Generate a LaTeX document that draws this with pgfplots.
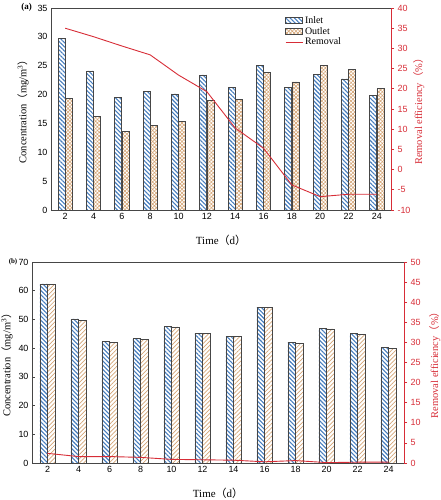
\documentclass[border=0pt]{standalone}
\usepackage{pgfplots}
\pgfplotsset{compat=1.18}
\usetikzlibrary{patterns.meta}
\usepackage{fontspec}
\setmainfont{Liberation Serif}
\setsansfont{Liberation Sans}
\newfontfamily\cjk{Noto Sans CJK SC}
\definecolor{inblue}{RGB}{70,125,190}
\definecolor{outtan}{RGB}{212,165,118}
\definecolor{remred}{RGB}{215,45,55}
\definecolor{axgray}{RGB}{70,70,70}
\tikzset{ylab/.style={font=\fontsize{10.5}{12}\selectfont}}
\pgfplotsset{
  base/.style={scale only axis, xmin=1, xmax=25, xtick={2,4,...,24},
    tick label style={font=\sffamily\fontsize{9}{10}\selectfont},
    /pgf/number format/assume math mode=true,
    axis line style={axgray, line width=0.8bp},
    clip=false},
  inletbar/.style={ybar, bar width=7bp, bar shift=-3.6bp, draw=axgray, line width=0.6bp,
    pattern={Lines[angle=-45,distance=3bp,line width=1.1bp]}, pattern color=inblue},
  outletA/.style={ybar, bar width=7bp, bar shift=3.6bp, draw=axgray, line width=0.6bp,
    pattern={Hatch[angle=45,distance=2.6bp,line width=0.6bp]}, pattern color=outtan},
  outletB/.style={ybar, bar width=7.5bp, bar shift=3.8bp, draw=axgray, line width=0.6bp,
    pattern={Lines[angle=45,distance=3bp,line width=0.7bp]}, pattern color=outtan},
}
\begin{document}
\begin{tikzpicture}
\path[use as bounding box] (0,0) rectangle (441bp,500bp);
% ---------------- panel (a) ----------------
\begin{axis}[base, at={(51bp,290bp)}, anchor=south west, width=340bp, height=202bp,
  ymin=0, ymax=35, ytick={0,5,...,35}, ytick pos=left, xtick pos=bottom,
  xtick style={draw=none}, ytick style={draw=none},
  ylabel={Concentration{\cjk （}mg/m\textsuperscript{3}{\cjk ）}},
  ylabel style={ylab, at={(axis description cs:-0.082,0.5)}, anchor=center, rotate=0},
  xlabel={Time{\cjk （}d{\cjk ）}},
  xlabel style={font=\fontsize{11}{12}\selectfont, at={(axis description cs:0.5,-0.149)}, anchor=center}]
\addplot[inletbar] coordinates {(2,29.8) (4,24.1) (6,19.5) (8,20.5) (10,20.1) (12,23.4) (14,21.2) (16,25.0) (18,21.2) (20,23.5) (22,22.7) (24,19.8)};
\addplot[outletA] coordinates {(2,19.4) (4,16.2) (6,13.6) (8,14.7) (10,15.4) (12,19.0) (14,19.1) (16,23.9) (18,22.2) (20,25.1) (22,24.3) (24,21.0)};
\end{axis}
\begin{axis}[base, at={(51bp,290bp)}, anchor=south west, width=340bp, height=202bp,
  axis x line=none, axis y line*=right, ymin=-10, ymax=40, ytick={-10,-5,...,40},
  y axis line style={remred}, yticklabel style={remred}, ytick style={remred, line width=0.6bp},
  tick align=outside, major tick length=3bp,
  ylabel={Removal efficiency{\cjk （}\%{\cjk ）}},
  ylabel style={ylab, remred, at={(axis description cs:1.082,0.5)}, anchor=center, rotate=0},
  legend style={at={(axis description cs:0.685,0.975)}, anchor=north west, draw=none, fill=none,
    font=\fontsize{10}{11}\selectfont, row sep=-1.5bp, inner sep=1bp},
  legend cell align=left]
\addlegendimage{area legend, draw=axgray, line width=0.6bp, pattern={Lines[angle=-45,distance=3bp,line width=1.1bp]}, pattern color=inblue}
\addlegendentry{Inlet}
\addlegendimage{area legend, draw=axgray, line width=0.6bp, pattern={Hatch[angle=45,distance=2.6bp,line width=0.6bp]}, pattern color=outtan}
\addlegendentry{Outlet}
\addplot[remred, line width=0.9bp, mark=none] coordinates {(2,35.0) (4,32.9) (6,30.6) (8,28.4) (10,23.4) (12,19.3) (14,10.3) (16,5.3) (18,-3.8) (20,-6.7) (22,-6.1) (24,-6.1)};
\addlegendentry{Removal}
\end{axis}
\node[anchor=east, font=\bfseries\fontsize{9}{10}\selectfont, inner sep=0] at (32bp,493bp) {(a)};
% ---------------- panel (b) ----------------
\begin{axis}[base, at={(32bp,37bp)}, anchor=south west, width=372bp, height=201bp,
  ymin=0, ymax=70, ytick={0,10,...,70}, ytick pos=left, xtick pos=bottom,
  xtick style={draw=none}, ytick style={axgray, line width=0.6bp}, tick align=inside, major tick length=3bp,
  ylabel={Concentration{\cjk （}mg/m\textsuperscript{3}{\cjk ）}},
  ylabel style={ylab, at={(axis description cs:-0.067,0.5)}, anchor=center, rotate=0},
  xlabel={Time{\cjk （}d{\cjk ）}},
  xlabel style={font=\fontsize{11}{12}\selectfont, at={(axis description cs:0.5,-0.149)}, anchor=center}]
\addplot[inletbar, bar width=7.5bp, bar shift=-3.8bp] coordinates {(2,62.4) (4,50.2) (6,42.4) (8,43.3) (10,47.7) (12,45.2) (14,44.2) (16,54.3) (18,42.1) (20,47.0) (22,45.1) (24,40.2)};
\addplot[outletB] coordinates {(2,62.1) (4,49.8) (6,42.1) (8,43.1) (10,47.4) (12,45.0) (14,44.0) (16,54.1) (18,41.7) (20,46.7) (22,44.9) (24,39.9)};
\end{axis}
\begin{axis}[base, at={(32bp,37bp)}, anchor=south west, width=372bp, height=201bp,
  axis x line=none, axis y line*=right, ymin=0, ymax=50, ytick={0,5,...,50},
  y axis line style={remred}, yticklabel style={remred}, ytick style={remred, line width=0.6bp},
  tick align=outside, major tick length=3bp,
  ylabel={Removal efficiency{\cjk （}\%{\cjk ）}},
  ylabel style={ylab, remred, at={(axis description cs:1.083,0.5)}, anchor=center, rotate=0}]
\addplot[remred, line width=0.9bp, mark=none] coordinates {(2,2.4) (4,1.6) (6,1.6) (8,1.4) (10,0.9) (12,0.8) (14,0.7) (16,0.3) (18,0.6) (20,0.1) (22,0.2) (24,0.2)};
\end{axis}
\node[anchor=east, font=\bfseries\fontsize{7}{8}\selectfont, inner sep=0] at (17.5bp,238bp) {(b)};
\end{tikzpicture}
\end{document}
